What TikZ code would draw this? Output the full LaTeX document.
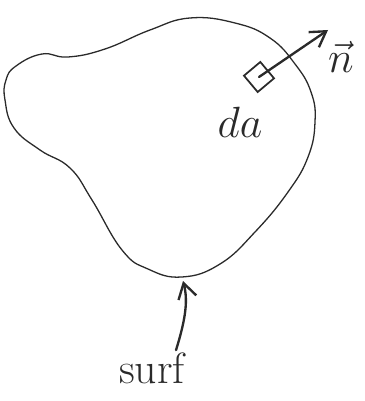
\documentclass[tikz,border=0pt]{standalone}
\usetikzlibrary{arrows.meta,calc}
\definecolor{pen}{HTML}{2A2A2A}
\begin{document}
\begin{tikzpicture}[
  x=0.03cm, y=-0.03cm,
  font=\Huge,
  outline/.style={draw=pen, line width=1.1pt},
  patch/.style={draw=pen, line width=1.5pt, minimum size=0.64cm, inner sep=0pt, rotate=40},
  arr/.style={-{Straight Barb[length=4.5mm, width=5.5mm]}, line width=2pt, pen, line cap=round},
  lbl/.style={text=pen, inner sep=0pt, scale=1.5},
]
\useasboundingbox (0,0) rectangle (364,401);
% ---- the closed surface ----
\draw[outline] plot[smooth cycle, tension=0.75] coordinates {
  (16,66) (42,54) (68,57) (105,49) (150,30) (190,18) (235,23)
  (270,38) (295,64) (311,92) (315,122) (308,157) (288,192)
  (255,232) (220,264) (182,277) (148,269) (122,250) (92,200)
  (70,168) (40,150) (14,128) (5,100) (6,80)};
\coordinate (sbot) at (183,281);
\coordinate (ntip) at (328,30);

% ---- area element and its normal ----
\node[patch] (da) at (259,77) {};
\draw[arr] (da.center) -- (ntip);
\node[lbl] (nlab) at (341,57) {$\vec{n}$};
\node[lbl] (dalab) at (240,122) {$da$};

% ---- the surface label ----
\node[lbl] (surf) at (152,368) {surf};
\draw[arr] ($(surf.north)+(24,-2)$) .. controls (186,318) and (188,300) .. (sbot);
\end{tikzpicture}
\end{document}
